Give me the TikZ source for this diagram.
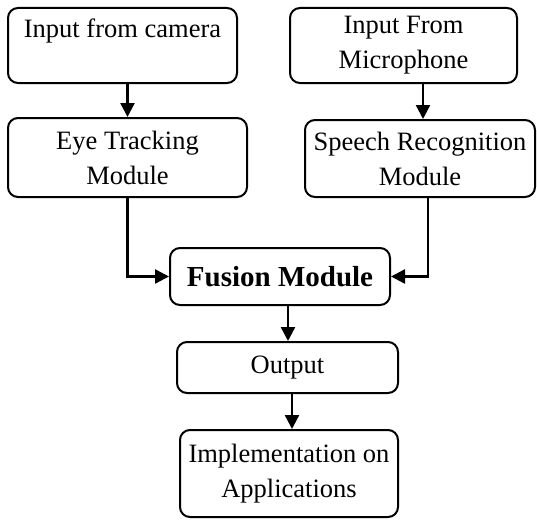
\documentclass[tikz,border=0pt]{standalone}
\usepackage{fontspec}
\setmainfont{Liberation Serif}
\usetikzlibrary{arrows.meta}
\begin{document}
\begin{tikzpicture}[x=1pt,y=-1pt,
 box/.style={draw, line width=2pt, rounded corners=10pt, inner sep=0pt, align=center, font=\fontsize{26.5}{35}\selectfont},
 conn/.style={line width=2.4pt, -{Triangle[length=14pt,width=14pt]}}]
\useasboundingbox (0,0) rectangle (537,519);
\node[box, minimum width=229pt, minimum height=75pt] (cam) at (122.5,45.5) {Input from camera\\\mbox{}};
\node[box, minimum width=239pt, minimum height=79pt] (eye) at (127.5,157.5) {Eye Tracking\\Module};
\node[box, minimum width=227pt, minimum height=75pt] (mic) at (403.5,45.5) {Input From\\Microphone};
\node[box, minimum width=230pt, minimum height=77pt] (speech) at (420,158.5) {Speech Recognition\\Module};
\node[box, minimum width=220pt, minimum height=57pt, font=\fontsize{29}{35}\selectfont\bfseries] (fusion) at (280,276.5) {Fusion Module};
\node[box, minimum width=221pt, minimum height=51pt] (output) at (287.5,367.5) {Output};
\node[box, minimum width=218pt, minimum height=87pt] (impl) at (289,473.5) {Implementation on\\Applications};
\draw[conn] (cam.south -| eye.north) -- (eye.north);
\draw[conn] ([xshift=19.5pt]mic.south) -- ([xshift=19.5pt]mic.south |- speech.north);
\draw[conn] (eye.south) |- (fusion.west);
\draw[conn] ([xshift=8pt]speech.south) |- (fusion.east);
\draw[conn] ([xshift=8pt]fusion.south) -- ([xshift=8pt]fusion.south |- output.north);
\draw[conn] ([xshift=4.5pt]output.south) -- ([xshift=4.5pt]output.south |- impl.north);
\end{tikzpicture}
\end{document}
